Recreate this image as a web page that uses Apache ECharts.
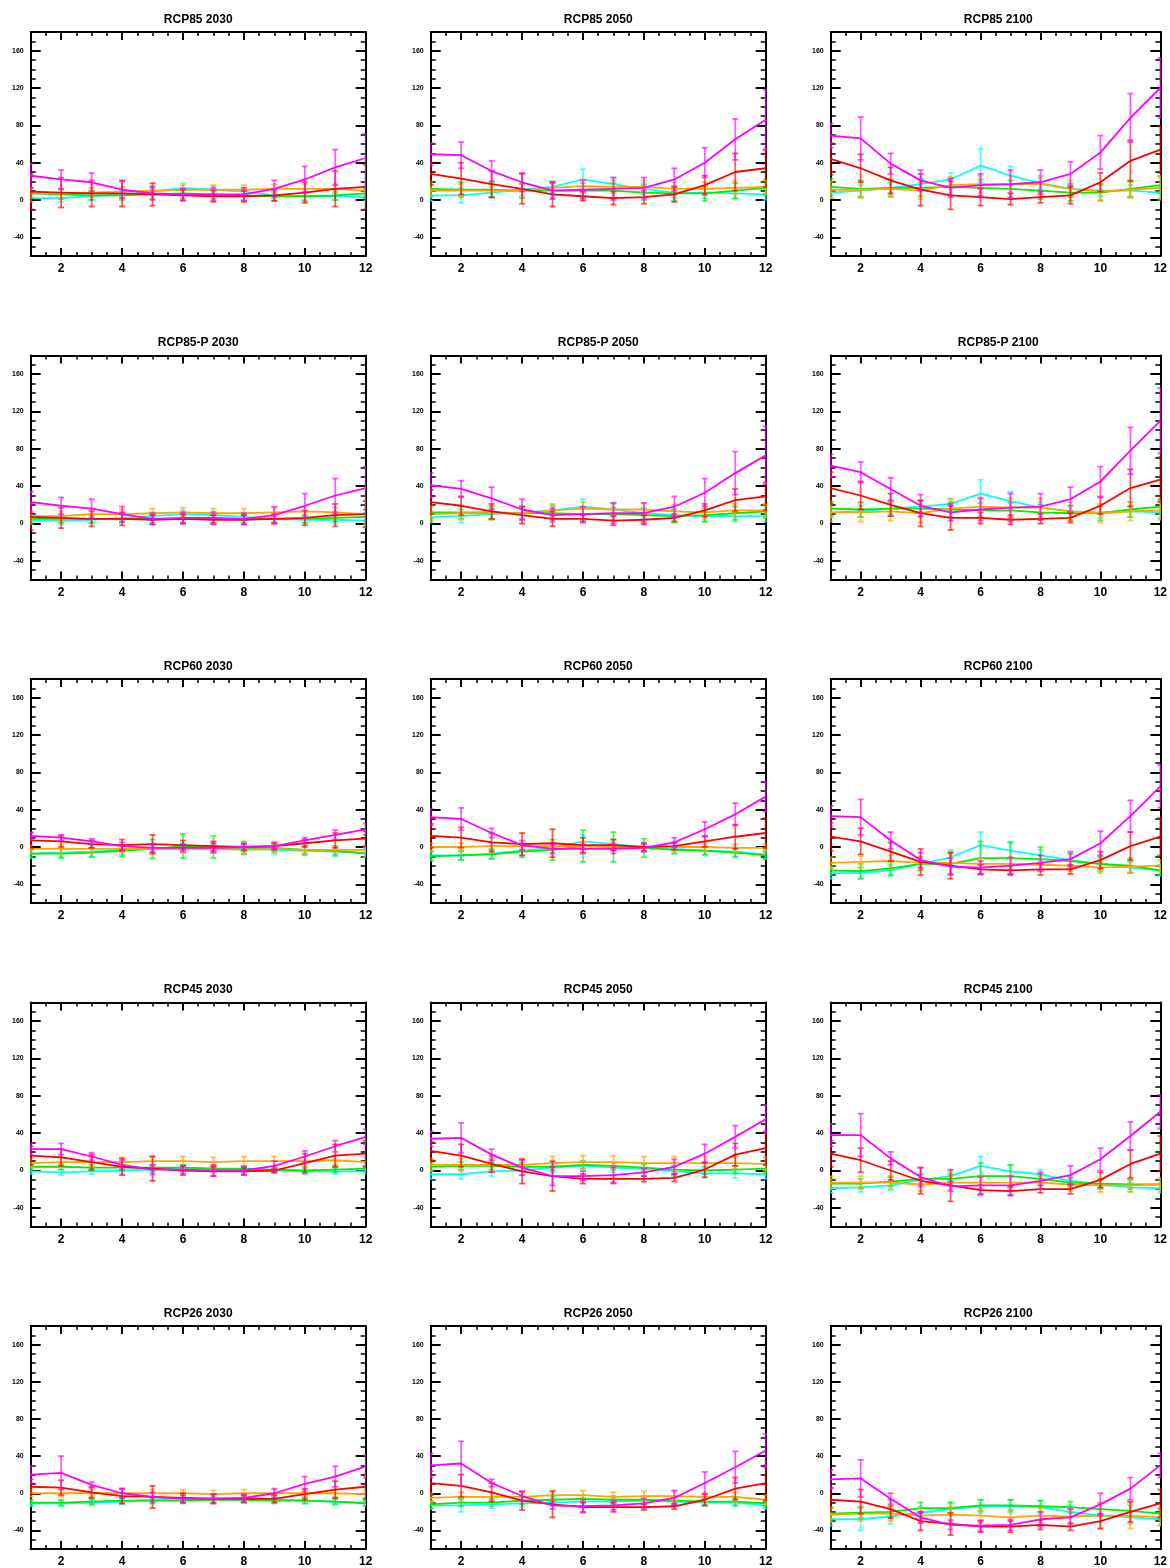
<!DOCTYPE html>
<html>
<head>
<meta charset="utf-8">
<script src="https://cdn.jsdelivr.net/npm/echarts@6/dist/echarts.min.js"></script>
<style>
  html, body { margin: 0; padding: 0; background: #fff; }
  #main { width: 1170px; height: 1568px; }
</style>
</head>
<body>
<div id="main"></div>
<script>
// months on the x axis, tick labels
const months = [1, 2, 3, 4, 5, 6, 7, 8, 9, 10, 11, 12];
const xTickLabels = [2, 4, 6, 8, 10, 12];
const yTickLabels = [-40, 0, 40, 80, 120, 160];
// series order: cyan, green, orange, red, magenta
const colors = ['#00ffff', '#00ee00', '#ffa500', '#ff0000', '#ff00ff'];

const titles = [
  'RCP85 2030', 'RCP85 2050', 'RCP85 2100',
  'RCP85-P 2030', 'RCP85-P 2050', 'RCP85-P 2100',
  'RCP60 2030', 'RCP60 2050', 'RCP60 2100',
  'RCP45 2030', 'RCP45 2050', 'RCP45 2100',
  'RCP26 2030', 'RCP26 2050', 'RCP26 2100'
];

// values (v_) and half-width of error bars (e_) per panel
const v_rcp85_2030 = [
  [2, 2, 4, 6, 9, 13, 11, 9, 5, 4, 4, 3],
  [7, 6, 5, 5, 6, 7, 6, 5, 4, 4, 5, 7],
  [8, 7, 8, 9, 10, 11, 11, 11, 12, 12, 12, 10],
  [9, 8, 7, 7, 6, 5, 4, 4, 5, 8, 12, 14],
  [26, 22, 19, 11, 7, 6, 6, 6, 12, 22, 35, 45]
];
const e_rcp85_2030 = [
  [4, 4, 4, 4, 4, 5, 4, 4, 4, 4, 4, 4],
  [5, 5, 5, 5, 5, 5, 5, 5, 5, 5, 5, 5],
  [5, 5, 5, 5, 5, 5, 5, 5, 5, 5, 5, 5],
  [19, 16, 14, 14, 12, 6, 6, 6, 6, 11, 19, 24],
  [13, 10, 10, 9, 7, 6, 7, 7, 9, 14, 19, 26]
];

const v_rcp85_2050 = [
  [5, 5, 8, 11, 14, 22, 17, 12, 8, 8, 7, 6],
  [12, 11, 11, 10, 10, 10, 10, 8, 7, 7, 10, 13],
  [10, 10, 10, 10, 13, 15, 14, 14, 12, 12, 13, 14],
  [28, 23, 17, 12, 6, 4, 2, 3, 6, 16, 30, 34],
  [49, 48, 31, 19, 10, 11, 12, 13, 22, 40, 65, 86]
];
const e_rcp85_2050 = [
  [6, 8, 6, 6, 6, 11, 7, 6, 6, 6, 6, 6],
  [8, 8, 8, 8, 8, 8, 8, 8, 8, 8, 8, 8],
  [7, 7, 7, 7, 7, 7, 7, 7, 7, 7, 7, 7],
  [12, 17, 14, 16, 13, 5, 7, 7, 8, 10, 20, 20],
  [12, 14, 11, 10, 9, 10, 12, 11, 12, 16, 22, 32]
];

const v_rcp85_2100 = [
  [8, 10, 13, 17, 22, 37, 26, 18, 12, 10, 10, 8],
  [14, 12, 13, 13, 14, 13, 12, 10, 8, 8, 12, 16],
  [11, 11, 12, 10, 16, 17, 17, 17, 12, 9, 11, 13],
  [44, 34, 21, 11, 5, 3, 1, 3, 5, 19, 42, 54],
  [69, 66, 39, 21, 13, 16, 17, 19, 28, 51, 88, 120]
];
const e_rcp85_2100 = [
  [6, 6, 6, 6, 7, 18, 10, 6, 6, 6, 6, 6],
  [9, 9, 9, 9, 9, 9, 9, 9, 9, 9, 9, 9],
  [9, 9, 9, 9, 9, 9, 9, 9, 9, 9, 9, 13],
  [17, 15, 14, 17, 15, 9, 6, 6, 9, 10, 22, 25],
  [13, 23, 11, 11, 10, 12, 15, 13, 13, 18, 26, 32]
];

const v_rcp85p_2030 = [
  [3, 3, 4, 6, 8, 10, 9, 7, 5, 4, 4, 3],
  [5, 5, 5, 5, 5, 5, 5, 5, 5, 5, 6, 7],
  [8, 8, 10, 10, 11, 12, 11, 11, 12, 13, 12, 10],
  [7, 6, 5, 5, 4, 5, 4, 4, 5, 6, 9, 10],
  [23, 19, 16, 10, 5, 6, 6, 5, 9, 19, 30, 38]
];
const e_rcp85p_2030 = [
  [4, 4, 4, 4, 4, 4, 4, 4, 4, 4, 4, 4],
  [4, 4, 4, 4, 4, 4, 4, 4, 4, 4, 4, 4],
  [5, 5, 5, 5, 5, 5, 5, 5, 5, 5, 5, 14],
  [14, 11, 8, 7, 5, 5, 5, 5, 5, 8, 12, 14],
  [11, 9, 10, 8, 6, 6, 6, 6, 9, 13, 18, 23]
];

const v_rcp85p_2050 = [
  [7, 8, 10, 12, 14, 18, 15, 11, 9, 8, 8, 8],
  [12, 12, 12, 11, 11, 10, 10, 9, 8, 9, 11, 13],
  [10, 11, 11, 11, 14, 16, 15, 15, 13, 12, 14, 14],
  [23, 19, 13, 9, 5, 5, 3, 4, 6, 14, 25, 29],
  [41, 37, 27, 15, 9, 10, 11, 11, 18, 33, 54, 73]
];
const e_rcp85p_2050 = [
  [6, 7, 6, 6, 6, 8, 6, 6, 6, 6, 6, 6],
  [7, 7, 7, 7, 7, 7, 7, 7, 7, 7, 7, 7],
  [7, 7, 7, 7, 7, 7, 7, 7, 7, 7, 7, 7],
  [13, 10, 8, 9, 8, 4, 5, 5, 4, 7, 12, 15],
  [13, 9, 12, 11, 7, 8, 11, 11, 11, 15, 23, 31]
];

const v_rcp85p_2100 = [
  [12, 13, 16, 18, 21, 32, 24, 17, 13, 12, 13, 12],
  [16, 15, 16, 16, 15, 14, 14, 12, 11, 11, 15, 18],
  [12, 12, 13, 11, 16, 18, 17, 17, 13, 11, 13, 14],
  [38, 30, 20, 11, 6, 6, 4, 5, 6, 19, 38, 47],
  [62, 55, 37, 19, 12, 15, 17, 18, 26, 45, 78, 110]
];
const e_rcp85p_2100 = [
  [6, 6, 6, 6, 6, 15, 10, 6, 6, 6, 6, 6],
  [8, 8, 8, 8, 8, 8, 8, 8, 8, 8, 8, 8],
  [10, 10, 10, 10, 10, 10, 10, 10, 10, 10, 10, 10],
  [17, 15, 12, 14, 13, 6, 5, 5, 5, 9, 20, 24],
  [12, 11, 12, 12, 9, 12, 15, 14, 13, 16, 25, 35]
];

const v_rcp60_2030 = [
  [-7, -6, -5, -3, -2, -1, -1, -2, -3, -4, -5, -6],
  [-7, -7, -6, -4, -2, 1, 0, -1, -1, -3, -4, -7],
  [-2, -2, -2, -2, -2, -2, -2, -3, -2, -3, -3, -3],
  [7, 6, 3, 2, 3, 2, 1, 0, 1, 4, 7, 9],
  [12, 10, 6, 1, -1, -1, -1, 0, 1, 7, 13, 19]
];
const e_rcp60_2030 = [
  [5, 5, 5, 5, 5, 5, 5, 5, 5, 5, 5, 5],
  [4, 5, 5, 6, 10, 13, 12, 7, 4, 5, 5, 4],
  [4, 4, 4, 4, 4, 4, 4, 4, 4, 4, 4, 4],
  [8, 6, 4, 6, 10, 5, 5, 4, 4, 4, 8, 8],
  [4, 3, 3, 4, 4, 4, 5, 3, 3, 3, 5, 6]
];

const v_rcp60_2050 = [
  [-9, -9, -7, -4, -1, 6, 3, 0, -2, -4, -5, -8],
  [-10, -9, -8, -5, -3, 1, 0, -1, -3, -4, -6, -9],
  [0, 0, 1, 1, 1, 1, 1, 0, 0, 0, -1, -1],
  [12, 10, 5, 3, 4, 2, 2, 0, 1, 6, 11, 15],
  [32, 30, 15, 2, -2, -2, -2, -1, 5, 19, 35, 54]
];
const e_rcp60_2050 = [
  [5, 5, 5, 5, 5, 7, 5, 5, 5, 5, 5, 5],
  [5, 5, 5, 6, 11, 17, 16, 10, 4, 4, 5, 4],
  [4, 4, 4, 4, 4, 4, 4, 4, 4, 4, 4, 4],
  [13, 11, 10, 12, 15, 8, 6, 4, 4, 6, 13, 16],
  [9, 12, 5, 5, 5, 5, 5, 4, 5, 8, 12, 16]
];

const v_rcp60_2100 = [
  [-28, -28, -25, -18, -11, 2, -4, -9, -14, -18, -22, -25],
  [-25, -26, -23, -18, -18, -12, -12, -13, -15, -18, -20, -25],
  [-17, -16, -15, -17, -17, -18, -18, -19, -20, -22, -21, -20],
  [11, 6, -5, -16, -20, -24, -25, -24, -24, -14, 1, 11],
  [33, 32, 7, -14, -21, -22, -20, -17, -13, 4, 33, 65]
];
const e_rcp60_2100 = [
  [6, 6, 6, 6, 8, 14, 9, 6, 6, 6, 6, 6],
  [5, 8, 7, 7, 11, 18, 17, 13, 8, 8, 8, 5],
  [6, 6, 6, 6, 12, 6, 6, 6, 6, 6, 6, 6],
  [15, 14, 10, 14, 14, 5, 5, 6, 5, 9, 15, 20],
  [11, 19, 9, 8, 9, 7, 9, 8, 8, 13, 17, 23]
];

const v_rcp45_2030 = [
  [-1, -2, -1, 0, 1, 3, 2, 1, 0, -1, -1, -1],
  [4, 4, 3, 3, 3, 3, 2, 2, 1, 0, 1, 2],
  [8, 9, 9, 9, 10, 10, 9, 10, 10, 10, 11, 9],
  [16, 14, 9, 4, 2, 0, -1, -1, 0, 8, 16, 18],
  [23, 23, 15, 6, 1, 1, 0, 0, 5, 15, 26, 36]
];
const e_rcp45_2030 = [
  [3, 3, 3, 3, 3, 3, 3, 3, 3, 3, 3, 3],
  [3, 3, 3, 3, 3, 3, 3, 3, 3, 3, 3, 3],
  [5, 5, 5, 5, 5, 5, 5, 5, 5, 5, 5, 5],
  [10, 9, 8, 9, 13, 5, 5, 4, 2, 10, 12, 14],
  [6, 6, 4, 5, 5, 4, 6, 4, 5, 6, 6, 8]
];

const v_rcp45_2050 = [
  [-4, -4, -1, 0, 3, 5, 3, 2, -1, -3, -3, -4],
  [4, 5, 5, 4, 4, 6, 5, 3, 1, 0, 1, 2],
  [6, 6, 6, 6, 8, 9, 9, 8, 8, 8, 8, 7],
  [21, 16, 7, -1, -6, -9, -9, -9, -8, 1, 17, 24],
  [34, 35, 17, 3, -6, -6, -5, -2, 4, 18, 36, 55]
];
const e_rcp45_2050 = [
  [5, 5, 5, 5, 5, 5, 5, 5, 5, 5, 5, 5],
  [4, 4, 4, 4, 4, 4, 4, 4, 4, 4, 4, 4],
  [7, 7, 7, 7, 7, 7, 7, 7, 7, 7, 7, 7],
  [10, 12, 9, 13, 16, 5, 4, 3, 4, 8, 12, 18],
  [8, 16, 6, 8, 10, 5, 9, 4, 8, 10, 12, 15]
];

const v_rcp45_2100 = [
  [-19, -18, -16, -10, -6, 5, -1, -4, -11, -15, -18, -19],
  [-14, -14, -12, -9, -9, -6, -6, -9, -13, -14, -15, -15],
  [-13, -13, -13, -15, -13, -13, -13, -13, -15, -16, -16, -15],
  [18, 11, 0, -11, -16, -21, -22, -20, -20, -10, 7, 18],
  [38, 38, 13, -7, -17, -16, -16, -11, -5, 12, 37, 63]
];
const e_rcp45_2100 = [
  [5, 5, 5, 5, 5, 10, 7, 5, 5, 5, 5, 5],
  [5, 5, 5, 5, 5, 14, 12, 5, 5, 5, 5, 5],
  [7, 7, 7, 7, 7, 7, 7, 7, 7, 7, 7, 7],
  [14, 13, 10, 14, 17, 5, 5, 4, 5, 8, 15, 19],
  [12, 23, 7, 10, 5, 9, 10, 9, 10, 12, 15, 18]
];

const v_rcp26_2030 = [
  [-11, -11, -10, -9, -7, -5, -5, -5, -6, -8, -9, -10],
  [-10, -10, -9, -8, -8, -8, -7, -7, -8, -8, -9, -11],
  [0, 0, 0, 0, 0, 0, -1, 0, 0, 0, 0, -1],
  [7, 6, 1, -3, -4, -5, -6, -6, -6, -1, 4, 7],
  [20, 22, 9, 0, -4, -6, -6, -5, 0, 10, 18, 29]
];
const e_rcp26_2030 = [
  [3, 3, 3, 3, 3, 3, 3, 3, 3, 3, 3, 3],
  [3, 3, 3, 3, 3, 3, 3, 3, 3, 3, 3, 3],
  [4, 4, 4, 4, 4, 4, 4, 4, 4, 4, 4, 4],
  [8, 8, 6, 8, 12, 5, 5, 4, 4, 6, 9, 13],
  [9, 18, 3, 5, 5, 4, 5, 4, 5, 8, 11, 12]
];

const v_rcp26_2050 = [
  [-13, -13, -12, -11, -10, -9, -9, -8, -9, -10, -10, -13],
  [-12, -10, -10, -8, -7, -6, -7, -7, -8, -9, -9, -11],
  [-5, -4, -4, -4, -2, -2, -4, -3, -3, -4, -4, -7],
  [11, 8, 1, -8, -12, -15, -15, -15, -14, -7, 5, 11],
  [30, 32, 11, -3, -13, -14, -13, -11, -5, 11, 28, 46]
];
const e_rcp26_2050 = [
  [4, 7, 4, 4, 4, 4, 4, 4, 4, 4, 4, 4],
  [4, 4, 4, 4, 4, 4, 4, 4, 4, 4, 4, 4],
  [5, 5, 5, 5, 5, 5, 5, 5, 5, 5, 5, 5],
  [13, 12, 10, 10, 14, 5, 5, 3, 3, 6, 12, 19],
  [13, 24, 4, 5, 4, 7, 5, 5, 8, 12, 17, 18]
];

const v_rcp26_2100 = [
  [-28, -28, -25, -21, -17, -14, -14, -15, -20, -24, -26, -28],
  [-22, -21, -20, -16, -16, -13, -13, -14, -15, -17, -19, -22],
  [-23, -22, -22, -24, -23, -24, -26, -24, -25, -24, -24, -26],
  [-7, -9, -17, -30, -33, -36, -36, -34, -36, -30, -20, -11],
  [15, 16, -6, -26, -34, -35, -34, -28, -26, -12, 5, 30]
];
const e_rcp26_2100 = [
  [7, 12, 8, 7, 7, 7, 7, 7, 7, 7, 7, 7],
  [6, 6, 6, 6, 6, 6, 6, 6, 6, 6, 6, 6],
  [8, 8, 8, 8, 8, 8, 8, 8, 8, 14, 14, 8],
  [13, 13, 10, 10, 12, 6, 6, 5, 4, 8, 11, 15],
  [10, 20, 6, 6, 5, 6, 6, 8, 9, 12, 12, 13]
];

const panelValues = [
  v_rcp85_2030, v_rcp85_2050, v_rcp85_2100,
  v_rcp85p_2030, v_rcp85p_2050, v_rcp85p_2100,
  v_rcp60_2030, v_rcp60_2050, v_rcp60_2100,
  v_rcp45_2030, v_rcp45_2050, v_rcp45_2100,
  v_rcp26_2030, v_rcp26_2050, v_rcp26_2100
];
const panelErrors = [
  e_rcp85_2030, e_rcp85_2050, e_rcp85_2100,
  e_rcp85p_2030, e_rcp85p_2050, e_rcp85p_2100,
  e_rcp60_2030, e_rcp60_2050, e_rcp60_2100,
  e_rcp45_2030, e_rcp45_2050, e_rcp45_2100,
  e_rcp26_2030, e_rcp26_2050, e_rcp26_2100
];

const FONT = '"Liberation Sans", Arial, Helvetica, sans-serif';
const chart = echarts.init(document.getElementById('main'), null, { renderer: 'canvas' });

const grids = [], xAxes = [], yAxes = [], series = [], graphics = [];
const gw = 335, gh = 224;

function errBar(params, api) {
  const x = api.value(0), v = api.value(1), e = api.value(2);
  const hi = api.coord([x, v + e]);
  const lo = api.coord([x, v - e]);
  const w = 3;
  const style = { stroke: api.visual('color'), lineWidth: 1.8, opacity: 0.65 };
  return {
    type: 'group',
    children: [
      { type: 'line', shape: { x1: hi[0], y1: hi[1], x2: lo[0], y2: lo[1] }, style: style },
      { type: 'line', shape: { x1: hi[0] - w, y1: hi[1], x2: hi[0] + w, y2: hi[1] }, style: style },
      { type: 'line', shape: { x1: lo[0] - w, y1: lo[1], x2: lo[0] + w, y2: lo[1] }, style: style }
    ]
  };
}

titles.forEach((title, i) => {
  const r = Math.floor(i / 3), c = i % 3;
  const left = 30.7 + c * 400;
  const top = 32 + r * 323.5;
  grids.push({ left: left, top: top, width: gw, height: gh, containLabel: false });

  const base = { gridIndex: i, type: 'value', min: 1, max: 12, splitLine: { show: false } };
  // bottom: minor ticks + labels
  xAxes.push(Object.assign({}, base, {
    position: 'bottom', interval: 0.5,
    axisLine: { show: true, onZero: false, lineStyle: { color: '#000', width: 2 } },
    axisTick: { show: true, inside: true, length: 4, lineStyle: { color: '#000', width: 1.5 } },
    axisLabel: { show: true, customValues: xTickLabels, margin: 7, color: '#000',
      fontSize: 12, fontWeight: 'bold', fontFamily: FONT }
  }));
  // bottom: major ticks
  xAxes.push(Object.assign({}, base, {
    position: 'bottom', interval: 0.5,
    axisLine: { show: false, onZero: false },
    axisTick: { show: true, inside: true, length: 8, customValues: xTickLabels, lineStyle: { color: '#000', width: 2 } },
    axisLabel: { show: false }
  }));
  // top: minor
  xAxes.push(Object.assign({}, base, {
    position: 'top', interval: 0.5,
    axisLine: { show: true, onZero: false, lineStyle: { color: '#000', width: 2 } },
    axisTick: { show: true, inside: true, length: 4, lineStyle: { color: '#000', width: 1.5 } },
    axisLabel: { show: false }
  }));
  // top: major
  xAxes.push(Object.assign({}, base, {
    position: 'top', interval: 0.5,
    axisLine: { show: false, onZero: false },
    axisTick: { show: true, inside: true, length: 8, customValues: xTickLabels, lineStyle: { color: '#000', width: 2 } },
    axisLabel: { show: false }
  }));

  const ybase = { gridIndex: i, type: 'value', min: -60, max: 180, interval: 10, splitLine: { show: false } };
  yAxes.push(Object.assign({}, ybase, {
    position: 'left',
    axisLine: { show: true, onZero: false, lineStyle: { color: '#000', width: 2 } },
    axisTick: { show: true, inside: true, length: 5, lineStyle: { color: '#000', width: 1.5 } },
    axisLabel: { show: true, customValues: yTickLabels, margin: 7, color: '#000',
      fontSize: 7, fontWeight: 'bold', fontFamily: FONT }
  }));
  yAxes.push(Object.assign({}, ybase, {
    position: 'left',
    axisLine: { show: false, onZero: false },
    axisTick: { show: true, inside: true, length: 10, customValues: yTickLabels, lineStyle: { color: '#000', width: 2 } },
    axisLabel: { show: false }
  }));
  yAxes.push(Object.assign({}, ybase, {
    position: 'right',
    axisLine: { show: true, onZero: false, lineStyle: { color: '#000', width: 2 } },
    axisTick: { show: true, inside: true, length: 5, lineStyle: { color: '#000', width: 1.5 } },
    axisLabel: { show: false }
  }));
  yAxes.push(Object.assign({}, ybase, {
    position: 'right',
    axisLine: { show: false, onZero: false },
    axisTick: { show: true, inside: true, length: 10, customValues: yTickLabels, lineStyle: { color: '#000', width: 2 } },
    axisLabel: { show: false }
  }));

  const vals = panelValues[i], errs = panelErrors[i];
  colors.forEach((col, s) => {
    series.push({
      type: 'custom',
      xAxisIndex: i * 4, yAxisIndex: i * 4,
      clip: true,
      renderItem: errBar,
      itemStyle: { color: col },
      encode: { x: 0, y: 1 },
      data: months.map((m, k) => [m, vals[s][k], errs[s][k]]),
      z: 2 + s,
      silent: true
    });
    series.push({
      type: 'line',
      xAxisIndex: i * 4, yAxisIndex: i * 4,
      showSymbol: false,
      lineStyle: { color: col, width: 1.8 },
      itemStyle: { color: col },
      data: months.map((m, k) => [m, vals[s][k]]),
      z: 2 + s,
      silent: true
    });
  });

  graphics.push({
    type: 'text',
    x: left + gw / 2,
    y: top - 12.5,
    style: {
      text: title, fill: '#000', align: 'center', verticalAlign: 'middle',
      font: 'bold 12px ' + FONT
    }
  });
});

chart.setOption({
  backgroundColor: '#fff',
  animation: false,
  grid: grids,
  xAxis: xAxes,
  yAxis: yAxes,
  series: series,
  graphic: graphics
});
</script>
</body>
</html>
